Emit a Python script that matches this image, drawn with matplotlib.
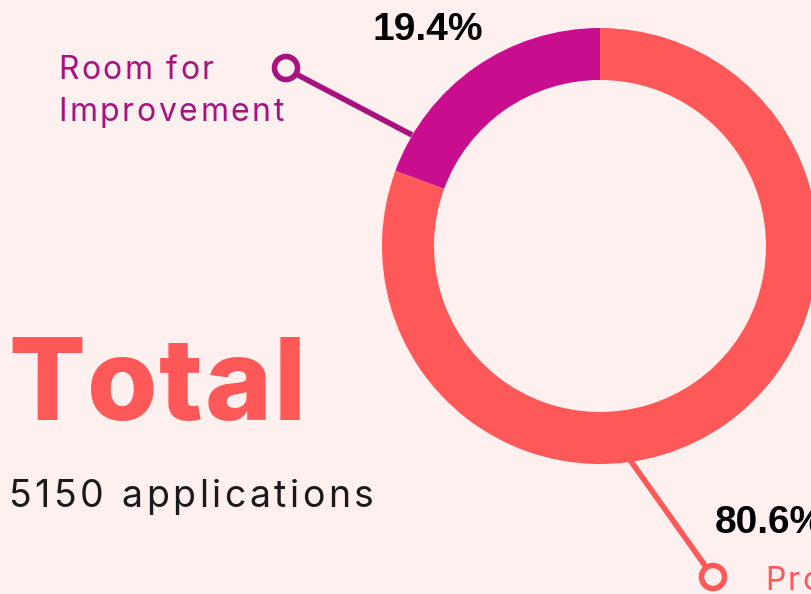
import matplotlib.pyplot as plt
from matplotlib.patches import Circle
from matplotlib.font_manager import FontProperties, findfont
from matplotlib.ft2font import FT2Font

# data
labels = ["Room for", "Improvement", "Proficient"]
shares = [19.4, 80.6]
pct_labels = ["19.4%", "80.6%"]
title = "Total"
total_label = "5150 applications"

bg = "#fff0f0"
coral = "#ff5858"
magenta = "#c90d8f"
magenta_dark = "#a8127f"
DPI = 100
H = 594


def spaced_text(ax, x, y, s, size, track, weight="normal", family="Inter", **kw):
    # draw text one glyph at a time so we can add letter spacing (px)
    fp = FontProperties(family=family, weight=weight, size=size)
    font = FT2Font(findfont(fp))
    font.set_size(size, DPI)
    for c in s:
        ax.text(x, y, c, fontproperties=fp, ha="left", va="baseline", **kw)
        g = font.load_char(ord(c))
        x += g.linearHoriAdvance / 65536 + track


fig = plt.figure(figsize=(8.12, 5.94), dpi=DPI, facecolor=bg)
ax = fig.add_axes([0, 0, 1, 1])
ax.set_facecolor(bg)

# donut (pixel coords, y flipped)
ax.pie(shares, colors=[magenta, coral], startangle=90, counterclock=True,
       center=(600, H - 246), radius=218, frame=True,
       wedgeprops=dict(width=52, linewidth=0))
ax.set_xlim(0, 812)
ax.set_ylim(0, H)
ax.set_aspect("equal")
ax.axis("off")

# connector for room for improvement
ax.plot([296, 412], [H - 74, H - 135], color=magenta_dark, lw=4, solid_capstyle="butt", zorder=3)
ax.add_patch(Circle((286, H - 68), 11.5, facecolor=bg, edgecolor=magenta_dark, lw=4, zorder=4))

# connector for proficient
ax.plot([630, 706], [H - 460, H - 567], color=coral, lw=4, solid_capstyle="butt", zorder=3)
ax.add_patch(Circle((713, H - 577), 11.5, facecolor=bg, edgecolor=coral, lw=4, zorder=4))

# labels
spaced_text(ax, 58, H - 79, labels[0], 23, 2.4, color=magenta_dark)
spaced_text(ax, 58, H - 121, labels[1], 23, 2.6, color=magenta_dark)
spaced_text(ax, 765, H - 590, labels[2], 23, 2.5, color=coral)

ax.text(373, H - 40, pct_labels[0], color="#000000", fontsize=28, fontweight="bold",
        family="Liberation Sans", ha="left", va="baseline")
ax.text(715, H - 533, pct_labels[1], color="#000000", fontsize=28, fontweight="bold",
        family="Liberation Sans", ha="left", va="baseline")

spaced_text(ax, 8, H - 420, title, 82, 1.8, weight="heavy", color=coral)
spaced_text(ax, 8, H - 507, total_label, 27, 3.6, color="#1a1a1a")

fig.savefig("out.png", dpi=DPI, facecolor=bg)
